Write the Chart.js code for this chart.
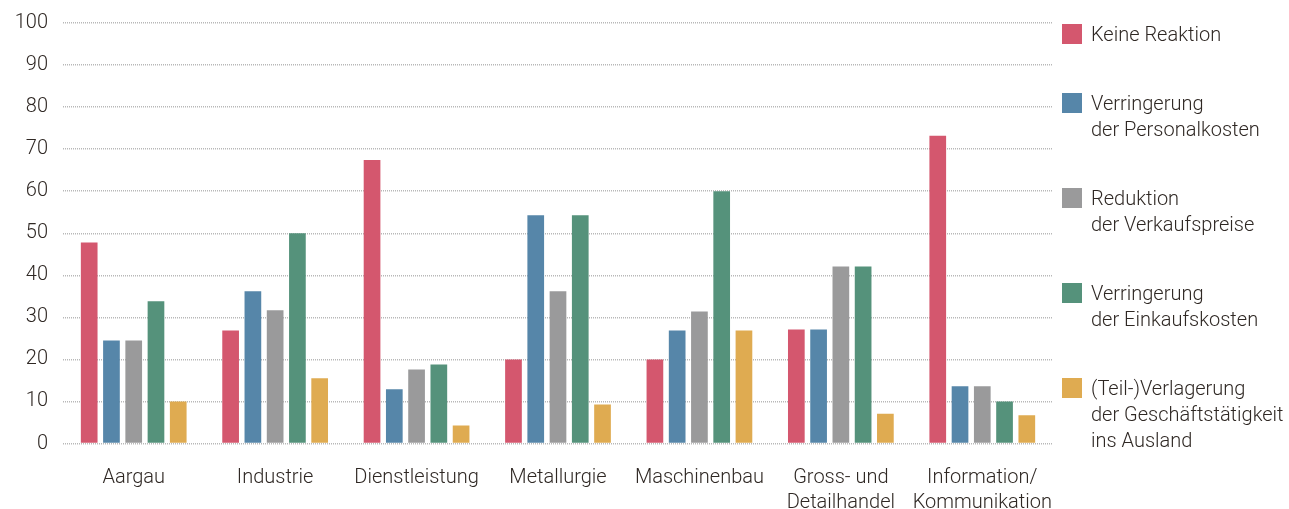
<!DOCTYPE html>
<html lang="de">
<head>
<meta charset="utf-8">
<title>Reaktionen nach Branche</title>
<script src="https://cdn.jsdelivr.net/npm/chart.js@4.4.1/dist/chart.umd.min.js"></script>
<style>
  html, body { margin: 0; padding: 0; background: #ffffff; }
  #wrap { position: relative; width: 1289px; height: 509px; }
  #legend {
    position: absolute; left: 1062px; top: 21px;
    font-family: Roboto, "Noto Sans", sans-serif; font-weight: 300;
    font-size: 20px; line-height: 26px; color: #2f2824;
  }
  .item { position: relative; padding-left: 29px; margin-bottom: 43px; white-space: nowrap; }
  .sw { position: absolute; left: 0; top: 3px; width: 20px; height: 20px; }
</style>
</head>
<body>
<div id="wrap">
  <canvas id="c"></canvas>
  <div id="legend"></div>
</div>
<script>
// Branchen (x-axis categories, multi-line where wrapped)
const categories = [
  'Aargau',
  'Industrie',
  'Dienstleistung',
  'Metallurgie',
  'Maschinenbau',
  ['Gross- und', 'Detailhandel'],
  ['Information/', 'Kommunikation']
];

// Shares in percent per reaction
const keineReaktion   = [47.8, 26.9, 67.4, 20.0, 20.0, 27.1, 73.2];
const personalkosten  = [24.5, 36.2, 12.9, 54.3, 26.9, 27.1, 13.6];
const verkaufspreise  = [24.5, 31.7, 17.6, 36.2, 31.4, 42.1, 13.6];
const einkaufskosten  = [33.8, 50.0, 18.8, 54.3, 60.0, 42.1, 10.0];
const verlagerung     = [10.0, 15.5, 4.3, 9.3, 26.9, 7.1, 6.7];

// Legend labels (lines)
const seriesLabels = [
  ['Keine Reaktion'],
  ['Verringerung', 'der Personalkosten'],
  ['Reduktion', 'der Verkaufspreise'],
  ['Verringerung', 'der Einkaufskosten'],
  ['(Teil-)Verlagerung', 'der Geschäftstätigkeit', 'ins Ausland']
];

// y-axis ticks
const yTicks = [0, 10, 20, 30, 40, 50, 60, 70, 80, 90, 100];

const colors = ['#d4576e', '#5686a9', '#9a9a9b', '#55927b', '#dfab51'];
const seriesValues = [keineReaktion, personalkosten, verkaufspreise, einkaufskosten, verlagerung];

const FONT = { family: 'Roboto, "Noto Sans", sans-serif', size: 20, weight: 300, lineHeight: 1.25 };
const TEXT = '#2f2824';

const datasets = seriesValues.map((vals, i) => ({
  label: seriesLabels[i].join(' '),
  data: vals,
  backgroundColor: colors[i],
  borderWidth: 0,
  barPercentage: 0.75,
  categoryPercentage: 0.787
}));

const chart = new Chart(document.getElementById('c'), {
  type: 'bar',
  data: { labels: categories, datasets },
  options: {
    responsive: true,
    maintainAspectRatio: false,
    animation: false,
    layout: { padding: { top: 23, right: 236, bottom: 0, left: 0 } },
    plugins: { legend: { display: false }, tooltip: { enabled: false }, title: { display: false } },
    scales: {
      x: {
        grid: { display: false, drawTicks: false },
        border: { display: false },
        ticks: { color: TEXT, font: FONT, padding: 22, maxRotation: 0, autoSkip: false },
        afterFit: s => { s.height = 65.5; s.paddingLeft = 0; s.paddingRight = 0; }
      },
      y: {
        min: 0, max: 100,
        afterBuildTicks: s => { s.ticks = yTicks.map(v => ({ value: v })); },
        // dotted gridlines (dash pattern comes from the border options in v4)
        grid: { color: '#b8b8b8', lineWidth: 1.5, drawTicks: false },
        border: { display: false, dash: [1, 1] },
        ticks: { color: TEXT, font: FONT, padding: 15 },
        afterFit: s => { s.width = 63; s.paddingTop = 0; s.paddingBottom = 0; }
      }
    }
  }
});

// HTML legend built from the datasets
const legend = document.getElementById('legend');
chart.data.datasets.forEach((ds, i) => {
  const item = document.createElement('div');
  item.className = 'item';
  const sw = document.createElement('span');
  sw.className = 'sw';
  sw.style.background = ds.backgroundColor;
  item.appendChild(sw);
  seriesLabels[i].forEach(line => {
    const d = document.createElement('div');
    d.textContent = line;
    item.appendChild(d);
  });
  legend.appendChild(item);
});
</script>
</body>
</html>
